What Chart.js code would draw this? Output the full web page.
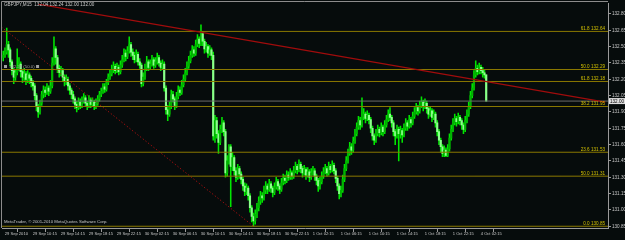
<!DOCTYPE html>
<html><head><meta charset="utf-8">
<script src="https://cdn.jsdelivr.net/npm/chart.js@4.4.1/dist/chart.umd.min.js"></script>
<style>html,body{margin:0;padding:0;background:#060c0c;overflow:hidden}</style>
</head><body>
<canvas id="c" width="625" height="240"></canvas>
<script>
// ---- data ----
const timeLabels = ['29 Sep 2010','29 Sep 10:15','29 Sep 14:15','29 Sep 18:15','29 Sep 22:15','30 Sep 02:15','30 Sep 06:15','30 Sep 10:15','30 Sep 14:15','30 Sep 18:15','30 Sep 22:15','1 Oct 02:15','1 Oct 06:15','1 Oct 10:15','1 Oct 14:15','1 Oct 18:15','1 Oct 22:15','4 Oct 02:15'];
const timeLabelBars = [0,16,32,48,64,80,96,112,128,144,160,176,192,208,224,240,256,272];
const firstOpen = 132.40;
const closes = [
132.42,132.45,132.52,132.47,132.36,132.28,132.22,132.26,132.31,132.34,
132.27,132.22,132.25,132.20,132.24,132.21,132.17,132.14,132.05,131.95,
131.90,131.98,132.06,132.10,132.08,132.12,132.09,132.14,132.35,132.48,
132.40,132.30,132.26,132.28,132.22,132.18,132.20,132.14,132.10,132.06,
132.02,131.97,131.94,131.99,131.96,132.00,132.03,131.98,131.96,132.01,
131.97,131.99,131.95,131.98,132.02,132.06,132.09,132.13,132.11,132.17,
132.22,132.25,132.29,132.32,132.28,132.31,132.27,132.33,132.38,132.44,
132.41,132.46,132.52,132.45,132.42,132.38,132.43,132.36,132.33,132.16,
132.22,132.30,132.36,132.31,132.34,132.38,132.33,132.36,132.40,132.35,
132.31,132.34,132.12,131.92,131.88,131.95,132.06,132.02,131.96,132.04,
132.10,132.08,132.15,132.20,132.26,132.32,132.37,132.42,132.47,132.44,
132.52,132.57,132.53,132.62,132.55,132.48,132.50,132.44,132.47,132.42,
131.68,131.82,131.70,131.62,131.74,131.80,131.72,131.34,131.45,131.58,
131.40,131.48,131.36,131.30,131.38,131.33,131.28,131.22,131.17,131.20,
131.13,131.02,130.94,130.90,130.96,131.02,131.08,131.13,131.11,131.18,
131.22,131.19,131.24,131.20,131.16,131.21,131.26,131.22,131.19,131.25,
131.29,131.27,131.32,131.30,131.34,131.31,131.36,131.40,131.37,131.42,
131.38,131.34,131.37,131.32,131.35,131.30,131.34,131.36,131.31,131.27,
131.22,131.26,131.31,131.35,131.38,131.34,131.40,131.37,131.41,131.36,
131.29,131.22,131.15,131.18,131.28,131.38,131.45,131.52,131.58,131.55,
131.63,131.70,131.76,131.82,131.78,131.86,131.88,131.84,131.87,131.83,
131.75,131.68,131.64,131.70,131.74,131.71,131.76,131.72,131.78,131.83,
131.88,131.85,131.80,131.72,131.68,131.74,131.70,131.73,131.69,131.75,
131.80,131.77,131.83,131.80,131.86,131.90,131.94,131.91,131.96,131.99,
131.95,131.98,131.93,131.88,131.91,131.85,131.88,131.80,131.72,131.64,
131.58,131.52,131.55,131.50,131.56,131.66,131.74,131.80,131.84,131.81,
131.85,131.82,131.78,131.74,131.82,131.88,131.95,132.05,132.12,132.24,
132.30,132.27,132.31,132.28,132.26,132.24,132.00];
const highs = [
132.46,132.49,132.67,132.55,132.49,132.38,132.30,132.29,132.48,132.40,
132.36,132.29,132.30,132.27,132.28,132.26,132.23,132.19,132.16,132.07,
131.97,132.01,132.09,132.14,132.13,132.16,132.14,132.19,132.40,132.59,
132.50,132.42,132.33,132.32,132.30,132.24,132.24,132.22,132.16,132.12,
132.09,132.04,132.00,132.03,132.02,132.04,132.07,132.05,132.00,132.05,
132.03,132.03,132.01,132.02,132.05,132.09,132.12,132.16,132.16,132.20,
132.25,132.29,132.33,132.36,132.34,132.35,132.33,132.37,132.42,132.48,
132.47,132.50,132.59,132.54,132.48,132.45,132.47,132.45,132.39,132.35,
132.26,132.34,132.41,132.38,132.38,132.42,132.40,132.40,132.44,132.42,
132.37,132.38,132.36,132.14,131.96,131.99,132.10,132.09,132.04,132.08,
132.14,132.13,132.19,132.24,132.30,132.36,132.41,132.46,132.51,132.50,
132.56,132.61,132.59,132.70,132.64,132.57,132.54,132.52,132.51,132.49,
132.45,131.87,131.85,131.73,131.78,131.85,131.82,131.74,131.50,131.60,
131.60,131.53,131.50,131.39,131.42,131.40,131.35,131.30,131.25,131.24,
131.22,131.15,131.04,130.97,131.00,131.06,131.12,131.17,131.16,131.22,
131.26,131.24,131.28,131.26,131.22,131.25,131.30,131.28,131.24,131.29,
131.33,131.32,131.36,131.35,131.38,131.36,131.40,131.44,131.42,131.46,
131.44,131.40,131.41,131.39,131.39,131.37,131.38,131.40,131.38,131.33,
131.29,131.30,131.35,131.39,131.42,131.40,131.44,131.42,131.45,131.43,
131.38,131.31,131.24,131.22,131.32,131.42,131.49,131.56,131.62,131.61,
131.67,131.74,131.80,131.86,131.85,132.03,131.93,131.90,131.91,131.89,
131.85,131.77,131.70,131.74,131.78,131.76,131.80,131.78,131.82,131.87,
131.92,131.94,131.87,131.82,131.74,131.78,131.76,131.77,131.75,131.79,
131.84,131.82,131.87,131.85,131.90,131.94,131.98,131.96,132.00,132.04,
132.01,132.02,132.00,131.95,131.95,131.93,131.92,131.90,131.82,131.74,
131.66,131.60,131.59,131.57,131.60,131.70,131.78,131.84,131.88,131.86,
131.89,131.87,131.84,131.80,131.86,131.92,131.99,132.09,132.16,132.28,
132.37,132.33,132.35,132.33,132.31,132.29,132.24];
const lows = [
132.37,132.40,132.43,132.40,132.32,132.24,132.16,132.19,132.24,132.28,
132.22,132.17,132.19,132.15,132.17,132.16,132.13,132.10,132.01,131.91,
131.85,131.88,131.96,132.03,132.04,132.06,132.05,132.07,132.12,132.33,
132.34,132.26,132.22,132.23,132.18,132.14,132.15,132.10,132.06,132.02,
131.98,131.93,131.90,131.92,131.93,131.94,131.98,131.95,131.92,131.94,
131.94,131.95,131.92,131.93,131.96,132.00,132.04,132.07,132.08,132.09,
132.15,132.20,132.23,132.26,132.25,132.26,132.24,132.25,132.31,132.36,
132.37,132.39,132.44,132.41,132.38,132.35,132.36,132.33,132.30,132.13,
132.14,132.20,132.28,132.28,132.29,132.32,132.30,132.31,132.34,132.32,
132.28,132.29,132.09,131.88,131.82,131.86,131.93,131.99,131.92,131.94,
132.02,132.05,132.06,132.13,132.18,132.24,132.30,132.35,132.40,132.41,
132.42,132.50,132.49,132.51,132.51,132.44,132.45,132.40,132.42,132.38,
131.64,131.62,131.66,131.52,131.60,131.71,131.68,131.30,131.31,131.42,
131.03,131.36,131.32,131.26,131.28,131.29,131.24,131.18,131.13,131.14,
131.09,130.98,130.89,130.85,130.87,130.93,130.99,131.05,131.07,131.09,
131.15,131.15,131.17,131.16,131.12,131.14,131.19,131.18,131.15,131.17,
131.23,131.24,131.25,131.27,131.28,131.28,131.29,131.34,131.33,131.35,
131.34,131.30,131.32,131.28,131.30,131.26,131.28,131.32,131.27,131.23,
131.17,131.19,131.24,131.29,131.33,131.31,131.32,131.34,131.35,131.33,
131.25,131.18,131.10,131.12,131.16,131.26,131.36,131.43,131.50,131.51,
131.53,131.61,131.68,131.74,131.74,131.76,131.83,131.80,131.82,131.79,
131.71,131.64,131.60,131.62,131.68,131.67,131.69,131.68,131.70,131.76,
131.81,131.82,131.76,131.68,131.60,131.66,131.45,131.66,131.62,131.67,
131.73,131.73,131.75,131.76,131.78,131.84,131.88,131.87,131.89,131.94,
131.91,131.93,131.89,131.84,131.86,131.81,131.83,131.76,131.68,131.60,
131.53,131.49,131.49,131.49,131.49,131.54,131.64,131.72,131.78,131.77,
131.79,131.78,131.74,131.70,131.72,131.80,131.86,131.93,132.03,132.10,
132.22,132.24,132.25,132.25,132.22,132.21,132.00];
const priceTicks = [130.85,131.00,131.15,131.30,131.45,131.60,131.75,131.90,132.05,132.20,132.35,132.50,132.65,132.80];
const fibLevels = [132.64,132.29,132.18,131.95,131.53,131.31,130.85];
const fibTexts = ['61.8 132.64','50.0 132.29','61.8 132.18','38.2 131.95','23.6 131.53','50.0 131.31','0.0 130.85'];
const bidPrice = 132.00;
const trendLine = [{x:20,y:132.89},{x:344,y:131.99}];
const channelLine = [{x:-1,y:132.68},{x:143,y:130.85}];
const titleText = 'GBPJPY,M15  132.04 132.24 132.00 132.00';
const copyrightText = 'MetaTrader, \u00a9 2001-2010 MetaQuotes Software Corp.';
const leftTagText = '132.29 (50.0)';

// ---- build ----
const opens = closes.map((c,i)=> i===0 ? firstOpen : closes[i-1]);
const wickData = closes.map((c,i)=>({x:i, y:[lows[i], highs[i]]}));
const bodyData = closes.map((c,i)=>({x:i, y:[opens[i], c]}));
const bodyColors = closes.map((c,i)=> c >= opens[i] ? '#00b400' : '#8cff8c');
const X_MIN = -0.7, X_MAX = X_MIN + 606/1.75;

function hLine(v, color, order){
  return {type:'line', data:[{x:X_MIN-5,y:v},{x:X_MAX+5,y:v}], borderColor:color, borderWidth:1,
    pointRadius:0, order:order};
}
const datasets = [];
fibLevels.forEach(v=>datasets.push(hLine(v,'#8a7800',-1)));
datasets.push(hLine(bidPrice,'#6a6a6a',-1));
datasets.push({type:'line', data:trendLine, borderColor:'#a00c0c', borderWidth:1.3, pointRadius:0, order:-2});
datasets.push({type:'line', data:channelLine, borderColor:'#b01010', borderWidth:1, borderDash:[1.2,2.2], pointRadius:0, order:-2});
datasets.push({type:'bar', data:wickData, backgroundColor:'#00e600', barThickness:0.9, grouped:false, order:2});
datasets.push({type:'bar', data:bodyData, backgroundColor:bodyColors, barThickness:1.5, minBarLength:1, grouped:false, order:1});

const deco = {
  id:'deco',
  beforeDraw(chart){
    const ctx = chart.ctx;
    ctx.save(); ctx.fillStyle = '#060c0c'; ctx.fillRect(0,0,chart.width,chart.height); ctx.restore();
  },
  afterDraw(chart){
    const ctx = chart.ctx, a = chart.chartArea, ys = chart.scales.y;
    ctx.save();
    ctx.strokeStyle = '#8c8c8c'; ctx.lineWidth = 1;
    ctx.beginPath(); ctx.moveTo(1.5,a.bottom); ctx.lineTo(1.5,1.5); ctx.lineTo(a.right,1.5); ctx.stroke();
    ctx.font = '4.6px "Liberation Sans"';
    ctx.textBaseline = 'middle';
    ctx.fillStyle = '#c8c8c8'; ctx.textAlign = 'left';
    ctx.fillText(titleText, 4, 5);
    ctx.font = '4.3px "Liberation Sans"';
    ctx.fillText(copyrightText, 4, 222);
    const ly = ys.getPixelForValue(132.29) - 3;
    ctx.fillStyle = '#a0a0a0'; ctx.fillRect(4, ly-1.5, 3, 3);
    ctx.fillText(leftTagText, 9, ly);
    ctx.fillRect(9 + ctx.measureText(leftTagText).width + 1.5, ly-1.5, 3, 3);
    ctx.font = '4.6px "Liberation Sans"';
    ctx.fillStyle = '#d2c000'; ctx.textAlign = 'right'; ctx.textBaseline = 'alphabetic';
    fibLevels.forEach((v,k)=>{ ctx.fillText(fibTexts[k], a.right-3, ys.getPixelForValue(v)-1.5); });
    const by = ys.getPixelForValue(bidPrice);
    ctx.fillStyle = '#e0e0e0'; ctx.fillRect(a.right+1, by-3, 16, 6);
    ctx.fillStyle = '#000'; ctx.textAlign = 'left'; ctx.textBaseline = 'middle';
    ctx.fillText(bidPrice.toFixed(2), a.right+2, by+0.3);
    ctx.restore();
  }
};

new Chart(document.getElementById('c'), {
  data:{datasets},
  plugins:[deco],
  options:{
    responsive:false, devicePixelRatio:1, animation:false,
    layout:{padding:{left:2,top:2,right:0,bottom:0}},
    plugins:{legend:{display:false}, tooltip:{enabled:false}},
    scales:{
      x:{type:'linear', position:'bottom', min:X_MIN, max:X_MAX, offset:false,
        afterFit(s){ s.height = 12; },
        afterBuildTicks(s){ s.ticks = timeLabelBars.map(v=>({value:v})); },
        grid:{display:true, drawOnChartArea:false, drawTicks:true, tickLength:4, color:'#9a9a9a'},
        border:{display:true, color:'#9a9a9a'},
        ticks:{autoSkip:false, maxRotation:0, align:'start', padding:-1, labelOffset:1.5, color:'#c8c8c8',
          font:{family:'Liberation Sans', size:4.1},
          callback(v){ const k = timeLabelBars.indexOf(v); return k>=0 ? timeLabels[k] : ''; }}
      },
      y:{type:'linear', position:'right', min:130.834, max:132.894,
        afterFit(s){ s.width = 17; },
        afterBuildTicks(s){ s.ticks = priceTicks.map(v=>({value:v})); },
        grid:{display:true, drawOnChartArea:false, drawTicks:true, tickLength:3, color:'#9a9a9a'},
        border:{display:true, color:'#9a9a9a'},
        ticks:{padding:1, color:'#c8c8c8', font:{family:'Liberation Sans', size:4.6},
          callback(v){ return Number(v).toFixed(2); }}
      }
    }
  }
});
</script>
</body></html>
